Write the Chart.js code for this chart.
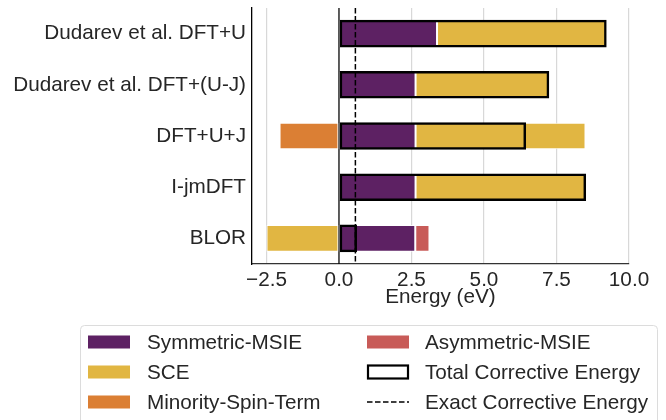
<!DOCTYPE html>
<html>
<head>
<meta charset="utf-8">
<script src="https://cdn.jsdelivr.net/npm/chart.js@4.4.0/dist/chart.umd.min.js"></script>
<style>
  body { margin: 0; background: #fff; }
  #wrap { width: 666px; height: 420px; }
</style>
</head>
<body>
<div id="wrap"><canvas id="energy-chart" width="666" height="420"></canvas></div>
<script>
// data (eV)
const methods = ['Dudarev et al. DFT+U', 'Dudarev et al. DFT+(U-J)', 'DFT+U+J', 'I-jmDFT', 'BLOR'];
const symmetricMSIE = [3.38, 2.64, 2.64, 2.64, 2.63];
const sce = [5.85, 4.61, 5.86, 5.88, -2.5];
const minoritySpin = [null, null, -2.05, null, null];
const asymmetricMSIE = [null, null, null, null, 0.49];
const totalEnergy = [9.23, 7.25, 6.45, 8.52, 0.62];
const exactEnergy = 0.565;
const xTicks = [-2.5, 0, 2.5, 5, 7.5, 10];

const legendCol1 = ['Symmetric-MSIE', 'SCE', 'Minority-Spin-Term'];
const legendCol2 = ['Asymmetric-MSIE', 'Total Corrective Energy', 'Exact Corrective Energy'];

const textColor = '#262626';
const fontFamily = "'Liberation Sans', Arial, Helvetica, sans-serif";
const fontSize = 20.7;

function fmtTick(v) {
  return (v < 0 ? '\u2212' : '') + Math.abs(v).toFixed(1);
}

// zero line under the bars, dashed "exact" line on top
const refLines = {
  id: 'refLines',
  beforeDatasetsDraw(chart) {
    const { ctx, chartArea, scales } = chart;
    const x0 = scales.x.getPixelForValue(0);
    ctx.save();
    ctx.strokeStyle = '#000';
    ctx.lineWidth = 1.2;
    ctx.beginPath();
    ctx.moveTo(x0, chartArea.top);
    ctx.lineTo(x0, chartArea.bottom);
    ctx.stroke();
    ctx.restore();
  },
  afterDatasetsDraw(chart) {
    const { ctx, chartArea, scales } = chart;
    const xe = scales.x.getPixelForValue(exactEnergy);
    ctx.save();
    ctx.strokeStyle = '#000';
    ctx.lineWidth = 1.5;
    ctx.setLineDash([5.5, 2.5]);
    ctx.beginPath();
    ctx.moveTo(xe, chartArea.top);
    ctx.lineTo(xe, chartArea.bottom);
    ctx.stroke();
    ctx.restore();
  }
};

// two-column legend box under the axis
const boxLegend = {
  id: 'boxLegend',
  afterDraw(chart) {
    const ctx = chart.ctx;
    const sets = chart.data.datasets;
    ctx.save();
    ctx.fillStyle = '#fff';
    ctx.strokeStyle = '#dcdcdc';
    ctx.lineWidth = 1;
    ctx.beginPath();
    ctx.roundRect(80.5, 325.5, 577, 110, 4);
    ctx.fill();
    ctx.stroke();

    ctx.font = fontSize + 'px ' + fontFamily;
    ctx.textBaseline = 'middle';
    ctx.fillStyle = textColor;
    const rowsY = [342, 372, 402];
    const cols = [{ items: legendCol1, sx: 88, tx: 147 }, { items: legendCol2, sx: 367, tx: 425 }];
    cols.forEach(col => {
      col.items.forEach((name, i) => {
        const y = rowsY[i];
        const ds = sets.find(d => d.label === name);
        if (name === 'Exact Corrective Energy') {
          ctx.strokeStyle = '#000';
          ctx.lineWidth = 1.5;
          ctx.setLineDash([5.5, 2.5]);
          ctx.beginPath();
          ctx.moveTo(col.sx, y);
          ctx.lineTo(col.sx + 42, y);
          ctx.stroke();
          ctx.setLineDash([]);
        } else if (name === 'Total Corrective Energy') {
          ctx.strokeStyle = '#000';
          ctx.lineWidth = 2.2;
          ctx.strokeRect(col.sx + 1, y - 6.5, 40, 13);
        } else if (ds) {
          ctx.fillStyle = ds.backgroundColor;
          ctx.fillRect(col.sx, y - 6.5, 42, 13);
        }
        ctx.fillStyle = textColor;
        ctx.fillText(name, col.tx, y + 1);
      });
    });
    ctx.restore();
  }
};

const barCommon = {
  stack: 'parts',
  grouped: false,
  order: 1,
  borderColor: 'rgba(255,255,255,0.9)',
  borderWidth: 1,
  borderSkipped: false,
  barPercentage: 0.52,
  categoryPercentage: 1.0
};

const ctx = document.getElementById('energy-chart').getContext('2d');
const energyChart = new Chart(ctx, {
  type: 'bar',
  data: {
    labels: methods,
    datasets: [
      { ...barCommon, label: 'Symmetric-MSIE', data: symmetricMSIE, backgroundColor: '#5d2163' },
      { ...barCommon, label: 'SCE', data: sce, backgroundColor: '#e1b642' },
      { ...barCommon, label: 'Minority-Spin-Term', data: minoritySpin, backgroundColor: '#db7f34' },
      { ...barCommon, label: 'Asymmetric-MSIE', data: asymmetricMSIE, backgroundColor: '#c85b58' },
      {
        label: 'Total Corrective Energy',
        data: totalEnergy,
        stack: 'total',
        grouped: false,
        order: 0,
        backgroundColor: 'rgba(0,0,0,0)',
        borderColor: '#000',
        borderWidth: 2.5,
        borderSkipped: false,
        barPercentage: 0.54,
        categoryPercentage: 1.0
      }
    ]
  },
  options: {
    indexAxis: 'y',
    responsive: false,
    animation: false,
    layout: { padding: { top: 8, right: 37, bottom: 110, left: 0 } },
    plugins: {
      legend: { display: false },
      tooltip: { enabled: false }
    },
    scales: {
      x: {
        type: 'linear',
        stacked: true,
        min: -3,
        max: 10,
        afterBuildTicks: s => { s.ticks = xTicks.map(v => ({ value: v })); },
        afterFit: s => { s.height = 46; },
        ticks: {
          callback: v => fmtTick(v),
          color: textColor,
          padding: 4,
          font: { family: fontFamily, size: fontSize }
        },
        grid: { color: '#d8d8d8', lineWidth: 1.2, drawTicks: false },
        border: { display: true, color: '#333', width: 1.2 },
        title: {
          display: true,
          text: 'Energy (eV)',
          color: textColor,
          padding: { top: 0, bottom: 0 },
          font: { family: fontFamily, size: fontSize }
        }
      },
      y: {
        stacked: true,
        afterFit: s => { s.width = 252; s.paddingTop = 0; s.paddingBottom = 0; },
        ticks: {
          color: textColor,
          padding: 6,
          font: { family: fontFamily, size: fontSize }
        },
        grid: { display: false, drawTicks: false },
        border: { display: true, color: '#000', width: 1.3 }
      }
    }
  },
  plugins: [refLines, boxLegend]
});
</script>
</body>
</html>
